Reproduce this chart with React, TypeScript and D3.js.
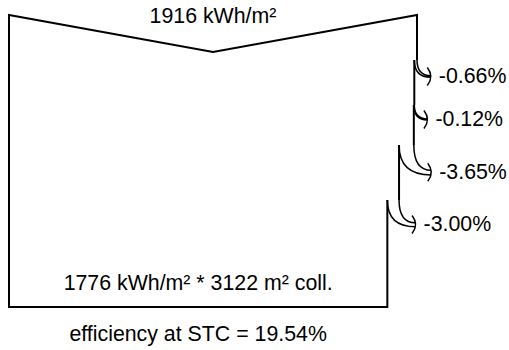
import React from "react";
import * as d3 from "d3";

// ---- data ----
const topValue = 1916; // kWh/m²
const topLabel = "1916 kWh/m²";
const lossLabels = ["-0.66%", "-0.12%", "-3.65%", "-3.00%"];
const lossValues = [-0.66, -0.12, -3.65, -3.0];
const bottomLabel = "1776 kWh/m² * 3122 m² coll.";
const efficiencyLabel = "efficiency at STC = 19.54%";

// ---- layout ----
const W = 509;
const H = 350;
const topY = 15;
const notchY = 52;
const bottomY = 307;
const FONT = "'Liberation Sans', Arial, Helvetica, sans-serif";
const FS = 21.33;

export default function App() {
  const x = d3.scaleLinear().domain([0, topValue]).range([9, 417]);
  const stepY = d3
    .scaleLinear()
    .domain([0, 1, 2, 3])
    .range([60, 105, 145, 200]);

  // cumulative flow values
  const flow: number[] = [topValue];
  lossValues.forEach((l, i) => flow.push(flow[i] * (1 + l / 100)));

  const x0 = x(0);
  const xTop = x(topValue);
  const xEnd = x(flow[flow.length - 1]);

  // outline
  const outline = d3.path();
  outline.moveTo(x0, bottomY);
  outline.lineTo(x0, topY);
  outline.lineTo(x(topValue / 2), notchY);
  outline.lineTo(xTop, topY);
  outline.lineTo(xTop, stepY(0));
  lossValues.forEach((_, i) => {
    const xn = x(flow[i + 1]);
    const y1 = i + 1 < lossValues.length ? stepY(i + 1) : bottomY;
    outline.moveTo(xn, stepY(i));
    outline.lineTo(xn, y1);
  });
  outline.lineTo(x0, bottomY);
  outline.lineTo(x0, topY);

  const arrows = lossValues.map((l, i) => {
    const xo = x(flow[i]);
    const xn = x(flow[i + 1]);
    const w = xo - xn;
    const ys = stepY(i);
    const tipX = xo + 15 + 0.3 * w;
    const tipY = ys + 14 + 0.9 * w;
    const yEo = tipY - 0.5 - w * 0.1;
    const yEn = tipY + 0.5 + w * 0.15;
    const p = d3.path();
    p.moveTo(xo, ys);
    p.quadraticCurveTo(xo, yEo, tipX - 2, yEo);
    p.moveTo(xn, ys);
    p.quadraticCurveTo(xn, yEn, tipX - 2, yEn);
    const head = d3.path();
    head.moveTo(tipX - 5.5, tipY - 9);
    head.quadraticCurveTo(tipX + 1.5, tipY, tipX - 5.5, tipY + 9);
    return { p: p.toString(), head: head.toString(), tipX, tipY, label: lossLabels[i] };
  });

  return (
    <svg
      width={W}
      height={H}
      style={{ position: "absolute", left: 0, top: 0, background: "#fff" }}
      fontFamily={FONT}
    >
      <rect width={W} height={H} fill="#fff" />
      <path d={outline.toString()} fill="none" stroke="#000" strokeWidth={2} strokeLinejoin="miter" />
      {arrows.map((a, i) => (
        <g key={i}>
          <path d={a.p} fill="none" stroke="#000" strokeWidth={1.5} />
          <path d={a.head} fill="none" stroke="#000" strokeWidth={1.5} />
          <text x={a.tipX + 6} y={a.tipY + 6.5} fontSize={FS} fill="#000">
            {a.label}
          </text>
        </g>
      ))}
      <text x={x(topValue / 2)} y={23} fontSize={FS} textAnchor="middle" fill="#000">
        {topLabel}
      </text>
      <text x={(x0 + xEnd) / 2} y={290} fontSize={FS} textAnchor="middle" fill="#000">
        {bottomLabel}
      </text>
      <text x={(x0 + xEnd) / 2} y={341} fontSize={FS} textAnchor="middle" fill="#000">
        {efficiencyLabel}
      </text>
    </svg>
  );
}
